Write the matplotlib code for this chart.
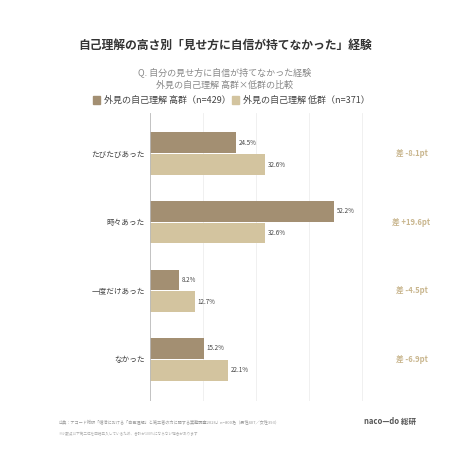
import matplotlib
matplotlib.use("Agg")
import matplotlib.pyplot as plt

plt.rcParams['font.family'] = ['Noto Sans CJK JP', 'DejaVu Sans']

categories = ["たびたびあった", "時々あった", "一度だけあった", "なかった"]
high = [24.5, 52.2, 8.2, 15.2]
low = [32.6, 32.6, 12.7, 22.1]
diffs = ["差 -8.1pt", "差 +19.6pt", "差 -4.5pt", "差 -6.9pt"]
c_high = "#a38f72"
c_low = "#d3c49f"

fig = plt.figure(figsize=(4.5, 4.5), dpi=100)
fig.text(0.5, 0.9, "自己理解の高さ別「見せ方に自信が持てなかった」経験", ha="center", va="center", fontsize=8.5, fontweight="bold", color="#333")
fig.text(0.5, 0.84, "Q. 自分の見せ方に自信が持てなかった経験", ha="center", va="center", fontsize=6.5, color="#888")
fig.text(0.5, 0.81, "外見の自己理解 高群×低群の比較", ha="center", va="center", fontsize=6.5, color="#888")
fig.patches.append(plt.Rectangle((0.207, 0.77), 0.016, 0.016, transform=fig.transFigure, color=c_high))
fig.text(0.232, 0.778, "外見の自己理解 高群（n=429）", va="center", fontsize=6.5, color="#444")
fig.patches.append(plt.Rectangle((0.515, 0.77), 0.016, 0.016, transform=fig.transFigure, color=c_low))
fig.text(0.54, 0.778, "外見の自己理解 低群（n=371）", va="center", fontsize=6.5, color="#444")

ax = fig.add_axes([0.333, 0.11, 0.51, 0.64])
h = 0.3
ys = list(range(len(categories)))
for i in ys:
    ax.barh(i - h/2 - 0.01, high[i], height=h, color=c_high)
    ax.barh(i + h/2 + 0.01, low[i], height=h, color=c_low)
    ax.text(high[i] + 0.8, i - h/2 - 0.01, f"{high[i]}%", va="center", fontsize=4.5, color="#444")
    ax.text(low[i] + 0.8, i + h/2 + 0.01, f"{low[i]}%", va="center", fontsize=4.5, color="#444")
    ax.text(1.14, i, diffs[i], transform=ax.get_yaxis_transform(), va="center", ha="center",
            fontsize=5.5, fontweight="bold", color="#c9b68e")
ax.set_xlim(0, 65)
ax.set_ylim(3.6, -0.6)
ax.set_yticks(ys)
ax.set_yticklabels(categories, fontsize=5.5, color="#444")
ax.set_xticks([0, 15, 30, 45, 60])
ax.tick_params(length=0, labelbottom=False)
ax.grid(axis="x", color="#eeeeee", lw=0.6)
ax.set_axisbelow(True)
for s in ax.spines.values():
    s.set_visible(False)
ax.axvline(0, color="#bbbbbb", lw=0.6)

fig.text(0.13, 0.058, "出典：ナコード総研「婚活における「自己理解」と第三者の力に関する実態調査2026」n=800名（男性407／女性393）", fontsize=3.0, color="#999")
fig.text(0.13, 0.033, "※小数点以下第二位を四捨五入しているため、合計が100%にならない場合があります", fontsize=2.6, color="#aaa")
fig.text(0.81, 0.058, "naco—do 総研", fontsize=5.5, color="#555", fontweight="bold")
fig.savefig("out.png", dpi=100, facecolor="white")
